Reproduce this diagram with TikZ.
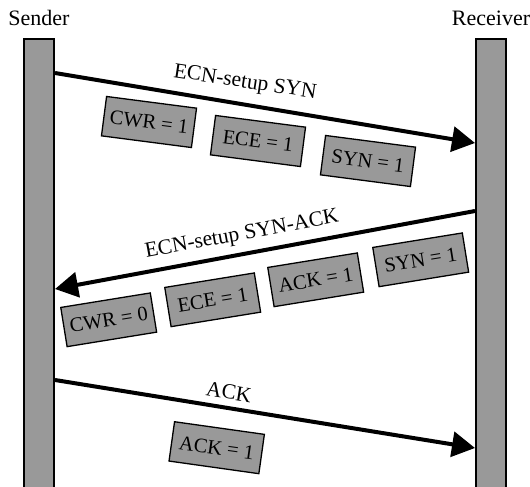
\documentclass[tikz,border=0pt]{standalone}
\usepackage{fontspec}
\setmainfont{Liberation Serif}
\usetikzlibrary{arrows.meta}
\definecolor{barfill}{RGB}{153,153,153}
\begin{document}
\begin{tikzpicture}[x=1pt,y=-1pt,
  bar/.style={draw, line width=1.8pt, fill=barfill, inner sep=0pt, minimum width=30.2pt, minimum height=460pt, anchor=north},
  pkt/.style={draw, line width=1.3pt, fill=barfill, minimum width=90.7pt, minimum height=39.7pt, inner sep=0pt, font=\fontsize{20.5}{24}\selectfont},
  lbl/.style={font=\fontsize{21.5}{25}\selectfont, inner sep=0pt},
  head/.style={font=\fontsize{22}{26}\selectfont, inner sep=0pt},
  msg/.style={line width=4pt, -{Triangle[length=23pt,width=25pt]}}]
\useasboundingbox (0,0) rectangle (530,487);
\clip (0,0) rectangle (530,487);
% lifelines
\node[bar] (S) at (39,37.9) {};
\node[bar] (R) at (491,37.9) {};
\node[head] (sn) at (39,18) {Sender};
\node[head] (rn) at (491,18) {Receiver};
% end points
\coordinate (s1) at (S.east |- 0,73);
\coordinate (r1) at (R.west |- 0,143);
\coordinate (r2) at (R.west |- 0,211);
\coordinate (s2) at (S.east |- 0,289);
\coordinate (s3) at (S.east |- 0,380);
\coordinate (r3) at (R.west |- 0,448);
% messages
\draw[msg] (s1) -- (r1);
\draw[msg] (r2) -- (s2);
\draw[msg] (s3) -- (r3);
% labels
\node[lbl, rotate=-8.6] (l1) at (245,83) {ECN-setup SYN};
\node[lbl, rotate=10.5] (l2) at (242,235) {ECN-setup SYN-ACK};
\node[lbl, rotate=-9] (l3) at (229,392) {ACK};
% packet fields
\node[pkt, rotate=-7.4] (c1) at (149,122) {CWR = 1};
\node[pkt, rotate=-7.4] (e1) at (258,141) {ECE = 1};
\node[pkt, rotate=-7.4] (y1) at (368,161) {SYN = 1};
\node[pkt, rotate=9.2] (c2) at (108.7,319.8) {CWR = 0};
\node[pkt, rotate=9.2] (e2) at (212.7,299.8) {ECE = 1};
\node[pkt, rotate=9.2] (a2) at (315.7,279.8) {ACK = 1};
\node[pkt, rotate=9.2] (y2) at (420.7,259.8) {SYN = 1};
\node[pkt, rotate=-8] (a3) at (216.7,447.7) {ACK = 1};
\end{tikzpicture}
\end{document}
